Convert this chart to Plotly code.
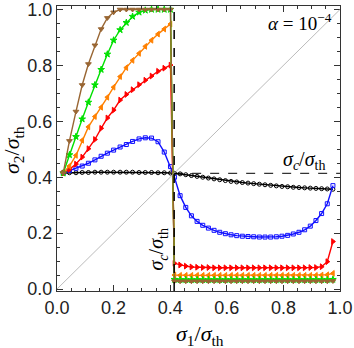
import plotly.graph_objects as go

# sigma_1 / sigma_th grid, left and right of the critical value
x_left = [0.022, 0.044, 0.067, 0.089, 0.111, 0.134, 0.156, 0.178, 0.200,
          0.223, 0.245, 0.267, 0.290, 0.312, 0.334, 0.357, 0.379, 0.401]
x_right = [0.415, 0.435, 0.455, 0.475, 0.495, 0.515, 0.535, 0.555, 0.575, 0.595,
           0.615, 0.635, 0.655, 0.675, 0.695, 0.715, 0.735, 0.755, 0.775, 0.795,
           0.815, 0.835, 0.855, 0.875, 0.895, 0.915, 0.935, 0.955, 0.975]

sigma_c = 0.414

black_l = [0.415, 0.416, 0.416, 0.417, 0.417, 0.418, 0.418, 0.418, 0.418,
           0.418, 0.418, 0.418, 0.417, 0.417, 0.417, 0.416, 0.416, 0.415]
black_r = [0.414, 0.412, 0.409, 0.406, 0.403, 0.400, 0.397, 0.394, 0.391, 0.388,
           0.385, 0.383, 0.381, 0.379, 0.377, 0.375, 0.373, 0.371, 0.369, 0.367,
           0.366, 0.364, 0.363, 0.362, 0.361, 0.360, 0.359, 0.358, 0.357]

blue_l = [0.415, 0.424, 0.432, 0.440, 0.450, 0.462, 0.475, 0.486, 0.497,
          0.508, 0.517, 0.528, 0.537, 0.541, 0.540, 0.527, 0.490, 0.438]
blue_r = [0.400, 0.334, 0.292, 0.262, 0.242, 0.228, 0.218, 0.210, 0.203, 0.198,
          0.194, 0.191, 0.189, 0.188, 0.187, 0.186, 0.186, 0.186, 0.187, 0.189,
          0.192, 0.197, 0.203, 0.212, 0.225, 0.245, 0.270, 0.305, 0.370]

red_l = [0.415, 0.428, 0.447, 0.472, 0.502, 0.535, 0.575, 0.612, 0.640,
         0.676, 0.696, 0.713, 0.731, 0.747, 0.762, 0.779, 0.790, 0.801]
red_r = [0.092, 0.086, 0.082, 0.079, 0.078, 0.077, 0.077, 0.076, 0.076, 0.076,
         0.076, 0.076, 0.076, 0.076, 0.076, 0.076, 0.076, 0.076, 0.076, 0.076,
         0.076, 0.076, 0.076, 0.076, 0.077, 0.077, 0.080, 0.098, 0.170]

orange_l = [0.415, 0.440, 0.478, 0.532, 0.580, 0.617, 0.650, 0.686, 0.722,
            0.760, 0.792, 0.818, 0.843, 0.868, 0.890, 0.912, 0.930, 0.948]
orange_r = [0.050, 0.049, 0.049, 0.049, 0.049, 0.049, 0.049, 0.049, 0.049, 0.049,
            0.049, 0.049, 0.049, 0.049, 0.049, 0.049, 0.049, 0.049, 0.049, 0.049,
            0.049, 0.049, 0.049, 0.049, 0.049, 0.049, 0.050, 0.051, 0.056]

green_l = [0.415, 0.480, 0.545, 0.608, 0.668, 0.730, 0.785, 0.840, 0.890,
           0.927, 0.953, 0.975, 0.990, 0.997, 1.000, 1.000, 1.000, 1.000]
green_r = [0.034, 0.033, 0.033, 0.033, 0.033, 0.033, 0.033, 0.033, 0.033, 0.033,
           0.033, 0.033, 0.033, 0.033, 0.033, 0.033, 0.033, 0.033, 0.033, 0.033,
           0.033, 0.033, 0.033, 0.033, 0.033, 0.033, 0.033, 0.033, 0.034]

brown_l = [0.415, 0.530, 0.635, 0.730, 0.805, 0.872, 0.930, 0.970, 0.990,
           1.000, 1.000, 1.000, 1.000, 1.000, 1.000, 1.000, 1.000, 1.000]
brown_r = [0.028, 0.028, 0.028, 0.028, 0.028, 0.028, 0.028, 0.028, 0.028, 0.028,
           0.028, 0.028, 0.028, 0.028, 0.028, 0.028, 0.028, 0.028, 0.028, 0.028,
           0.028, 0.028, 0.028, 0.028, 0.028, 0.028, 0.028, 0.028, 0.029]

x_all = x_left + x_right
series = [
    (black_l + black_r, 'black', 'circle-open', 4),
    (blue_l + blue_r, '#1010ff', 'square-open', 4),
    (red_l + red_r, '#ff0000', 'triangle-right', 5),
    (orange_l + orange_r, '#ff8000', 'triangle-left', 5),
    (green_l + green_r, '#00e000', 'star', 5),
    (brown_l + brown_r, '#996633', 'triangle-down', 5),
]

fig = go.Figure()

# y = x guide
fig.add_shape(type='line', x0=0, y0=0, x1=1, y1=1, xref='x', yref='y',
              line=dict(color='#aaaaaa', width=0.8))

for ys, col, sym, sz in series:
    fig.add_trace(go.Scatter(x=x_all, y=ys, mode='lines+markers',
                             line=dict(color=col, width=1.4),
                             marker=dict(symbol=sym, size=sz, color=col,
                                         line=dict(color=col, width=1)),
                             showlegend=False))

fig.add_shape(type='line', x0=sigma_c, x1=sigma_c, y0=0, y1=1, xref='x', yref='paper',
              line=dict(color='black', width=1.5, dash='dash'))
fig.add_shape(type='line', x0=sigma_c, x1=1, y0=sigma_c, y1=sigma_c, xref='x', yref='y',
              line=dict(color='black', width=1, dash='dash'))

serif = 'Liberation Serif'
lbl = '<i>σ</i><sub><i>c</i></sub>/<i>σ</i><sub>th</sub>'
def note(x, y, text, size, ref='x', angle=0):
    fig.add_annotation(x=x, y=y, xref=ref, yref=ref.replace('x', 'y') if ref == 'x' else ref,
                       showarrow=False, text=text, textangle=angle,
                       xanchor='center', yanchor='middle',
                       font=dict(family=serif, size=size, color='black'))

note(0.86, 0.955, '<i>α</i> = 10<sup>−4</sup>', 19)
note(0.873, 0.46, lbl, 20)
note(0.355, 0.143, lbl, 20, angle=-90)
note(0.505, -0.155, '<i>σ</i><sub>1</sub>/<i>σ</i><sub>th</sub>', 22, ref='paper')
note(-0.155, 0.495, '<i>σ</i><sub>2</sub>/<i>σ</i><sub>th</sub>', 22, ref='paper', angle=-90)

axis_common = dict(showgrid=False, zeroline=False, showline=True, linecolor='#333333',
                   linewidth=1, mirror='ticks', ticks='inside', ticklen=6, tickwidth=1,
                   tickcolor='#333333', tickmode='linear', dtick=0.2, tickformat='.1f',
                   automargin=False, ticklabeloverflow='allow',
                   tickfont=dict(family='Liberation Sans', size=18, color='#222222'),
                   minor=dict(ticks='inside', ticklen=3, dtick=0.05, tickcolor='#333333'))

fig.update_xaxes(range=[0, 1.0], tick0=0, **axis_common)
fig.update_yaxes(range=[-0.007, 1.0125], tick0=0, **axis_common)

fig.update_layout(width=354, height=348, margin=dict(l=57, r=14, t=6, b=57),
                  plot_bgcolor='white', paper_bgcolor='white')

fig.write_html("out.html", config={'displayModeBar': False},
               post_script="document.body.style.margin='0';document.body.style.overflow='hidden';")
